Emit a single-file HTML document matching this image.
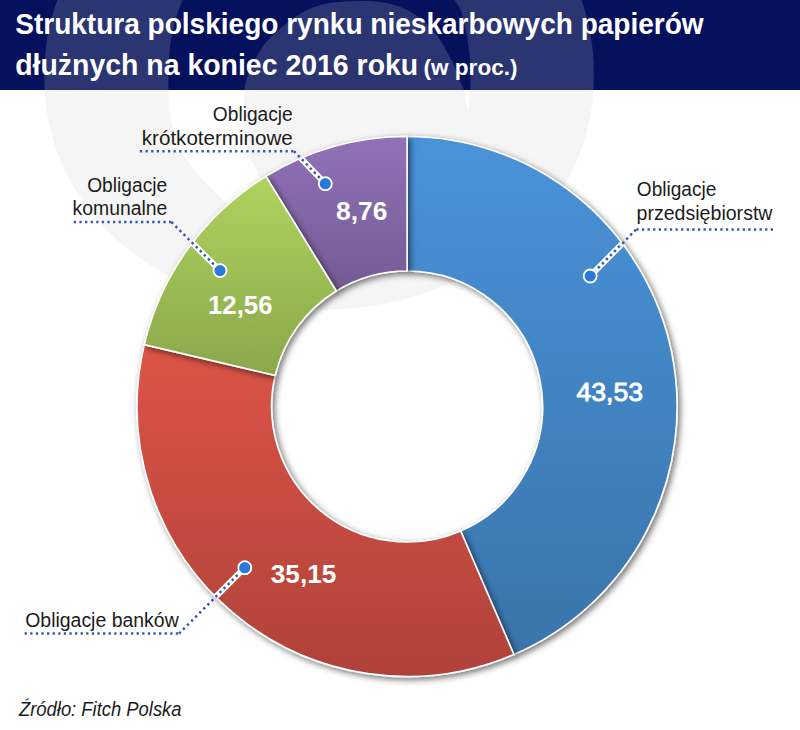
<!DOCTYPE html>
<html lang="pl">
<head>
<meta charset="utf-8">
<title>Struktura polskiego rynku nieskarbowych papierów dłużnych</title>
<style>
html,body{margin:0;padding:0;background:#ffffff;}
body{width:800px;height:730px;overflow:hidden;}
svg{display:block;}
text{font-family:"Liberation Sans",sans-serif;}
.t{font-weight:bold;fill:#ffffff;}
.l{font-size:20px;fill:#1c1c1c;}
.v{font-weight:bold;font-size:26px;fill:#ffffff;}
.dot{fill:none;stroke:#3557b0;stroke-width:2.5;}
.halo{fill:none;stroke:#ffffff;stroke-width:6;stroke-linecap:round;}
.pt{fill:#2979db;stroke:#ffffff;stroke-width:1.8;}
</style>
</head>
<body>
<svg width="800" height="730" viewBox="0 0 800 730">
<defs>
  <clipPath id="hdr"><rect x="0" y="0" width="800" height="90"/></clipPath>
  <clipPath id="bdy"><rect x="0" y="90" width="800" height="640"/></clipPath>
  <clipPath id="c1"><path d="M593.8,70.3 L593.8,79.5 L593.5,88.4 L592.9,97.0 L591.9,105.5 L590.6,113.8 L589.0,122.1 L587.1,130.3 L584.8,138.3 L582.2,146.2 L579.4,154.1 L576.2,161.8 L572.7,169.3 L568.9,176.8 L564.9,184.1 L560.5,191.3 L555.8,198.3 L550.9,205.1 L545.7,211.8 L540.2,218.3 L534.4,224.6 L528.4,230.8 L522.2,236.8 L515.7,242.5 L508.9,248.1 L501.9,253.4 L494.7,258.6 L487.3,263.5 L479.7,268.2 L471.8,272.6 L463.8,276.9 L455.6,280.8 L447.2,284.6 L438.6,288.1 L429.8,291.3 L420.9,294.3 L411.9,297.1 L402.7,299.5 L393.3,301.7 L383.8,303.7 L374.2,305.4 L364.5,306.8 L354.6,307.9 L344.5,308.8 L334.2,309.4 L323.3,309.7 L312.4,309.8 L302.1,309.6 L292.0,309.1 L282.1,308.3 L272.3,307.2 L262.6,305.9 L253.0,304.3 L243.6,302.4 L234.3,300.3 L225.2,297.9 L216.2,295.2 L207.3,292.3 L198.6,289.1 L190.1,285.7 L181.7,282.0 L173.5,278.0 L165.5,273.9 L157.7,269.4 L150.1,264.8 L142.8,259.9 L135.6,254.8 L128.6,249.5 L121.9,244.0 L115.4,238.3 L109.2,232.3 L103.2,226.2 L97.5,219.9 L92.1,213.4 L86.9,206.8 L82.0,199.9 L77.4,192.9 L73.0,185.8 L69.0,178.5 L65.2,171.0 L61.8,163.4 L58.6,155.7 L55.8,147.9 L53.2,139.9 L51.0,131.8 L49.1,123.6 L47.5,115.3 L46.2,106.9 L45.3,98.3 L44.6,89.5 L44.3,80.2 L44.3,70.9 L44.6,62.1 L45.3,53.5 L46.2,45.0 L47.5,36.6 L49.1,28.4 L51.1,20.2 L53.3,12.2 L55.9,4.2 L58.7,-3.6 L61.9,-11.3 L65.4,-18.9 L69.2,-26.3 L73.3,-33.6 L77.6,-40.8 L82.3,-47.8 L87.2,-54.7 L92.4,-61.3 L97.9,-67.9 L103.7,-74.2 L109.7,-80.3 L115.9,-86.3 L122.5,-92.1 L129.2,-97.6 L136.2,-103.0 L143.4,-108.1 L150.8,-113.0 L158.5,-117.7 L166.3,-122.2 L174.3,-126.4 L182.6,-130.4 L191.0,-134.1 L199.5,-137.6 L208.3,-140.9 L217.2,-143.9 L226.3,-146.6 L235.5,-149.1 L244.8,-151.3 L254.3,-153.2 L263.9,-154.9 L273.7,-156.3 L283.6,-157.5 L293.6,-158.3 L303.9,-158.9 L314.8,-159.3 L325.7,-159.3 L336.0,-159.1 L346.1,-158.6 L356.1,-157.8 L365.9,-156.8 L375.5,-155.4 L385.1,-153.8 L394.5,-152.0 L403.8,-149.8 L412.9,-147.4 L421.9,-144.7 L430.8,-141.8 L439.5,-138.6 L448.0,-135.2 L456.4,-131.5 L464.6,-127.6 L472.6,-123.4 L480.4,-119.0 L488.0,-114.3 L495.4,-109.5 L502.5,-104.4 L509.5,-99.1 L516.2,-93.5 L522.7,-87.8 L528.9,-81.9 L534.9,-75.8 L540.6,-69.5 L546.0,-63.0 L551.2,-56.3 L556.1,-49.5 L560.8,-42.5 L565.1,-35.3 L569.1,-28.0 L572.9,-20.6 L576.4,-13.0 L579.5,-5.3 L582.3,2.6 L584.9,10.5 L587.1,18.6 L589.0,26.8 L590.6,35.1 L591.9,43.6 L592.9,52.2 L593.5,61.0 Z"/></clipPath>
  <clipPath id="ring"><circle cx="407.1" cy="406.5" r="270.0"/></clipPath>
  <linearGradient id="gB" x1="0" y1="0" x2="0" y2="1"><stop offset="0" stop-color="#4993d9"/><stop offset="1" stop-color="#3a74ab"/></linearGradient>
  <linearGradient id="gR" x1="0" y1="0" x2="0" y2="1"><stop offset="0" stop-color="#dd5448"/><stop offset="1" stop-color="#af4239"/></linearGradient>
  <linearGradient id="gG" x1="0" y1="0" x2="0" y2="1"><stop offset="0" stop-color="#afd35f"/><stop offset="1" stop-color="#8aa74b"/></linearGradient>
  <linearGradient id="gP" x1="0" y1="0" x2="0" y2="1"><stop offset="0" stop-color="#9072b8"/><stop offset="1" stop-color="#745b94"/></linearGradient>
  <filter id="sh" x="-10%" y="-10%" width="120%" height="120%">
    <feDropShadow dx="2.4" dy="2.4" stdDeviation="3" flood-color="#000000" flood-opacity="0.55"/>
  </filter>
</defs>
<rect x="0" y="0" width="800" height="730" fill="#ffffff"/>
<rect x="0" y="0" width="800" height="90" fill="#05115c"/>
<g clip-path="url(#hdr)">
  <g clip-path="url(#c1)">
    <rect x="0" y="0" width="800" height="730" fill="#2b3571"/>
    <path d="M186.0,-8.0 C185.4,-6.7 184.2,-4.7 182.4,0.0 C180.6,4.7 177.3,13.3 175.4,20.0 C173.5,26.7 172.1,33.3 171.0,40.0 C169.9,46.7 169.3,52.5 168.9,60.0 C168.5,67.5 168.4,78.3 168.4,85.0 C168.4,91.7 168.5,95.2 168.8,100.0 C169.1,104.8 169.2,108.7 170.0,114.0 C170.8,119.3 172.2,126.7 173.6,132.0 C175.0,137.3 176.5,141.7 178.5,146.0 C180.5,150.3 182.9,154.1 185.5,158.0 C188.1,161.9 191.9,166.6 194.0,169.5 C196.1,172.4 195.5,172.8 198.0,175.5 C200.5,178.2 205.2,182.2 209.0,186.0 C212.8,189.8 215.8,193.3 221.0,198.0 C226.2,202.7 236.8,211.3 240.0,214.0L275.0,196.0 C272.5,193.1 262.8,182.2 260.0,178.5 C257.2,174.8 259.5,176.2 258.5,174.0 C257.5,171.8 255.5,167.7 254.0,165.0 C252.5,162.3 251.3,163.5 249.8,158.0 C248.2,152.5 245.5,139.3 244.5,132.0 C243.5,124.7 243.6,121.0 243.6,114.0 C243.6,107.0 244.2,95.2 244.5,90.0 C244.8,84.8 244.8,85.8 245.5,83.0 C246.2,80.2 247.4,76.8 249.0,73.0 C250.6,69.2 252.8,64.2 255.0,60.0 C257.2,55.8 259.8,51.3 262.0,48.0 C264.2,44.7 265.0,43.2 268.0,40.0 C271.0,36.8 275.9,32.5 280.0,29.0 C284.1,25.5 288.3,22.0 292.5,19.0 C296.7,16.0 300.8,13.2 305.0,11.0 C309.2,8.8 313.3,7.3 317.5,6.0 C321.7,4.7 325.4,3.8 330.0,3.0 C334.6,2.2 339.2,1.8 345.0,1.5 C350.8,1.2 359.5,0.9 365.0,1.0 C370.5,1.1 373.8,1.3 378.0,1.8 C382.2,2.3 385.5,2.5 390.0,3.8 C394.5,5.0 400.2,6.8 405.0,9.0 C409.8,11.2 414.9,14.3 418.7,17.0 C422.4,19.6 424.7,22.1 427.5,24.9 C430.3,27.7 433.2,31.0 435.4,33.6 C437.6,36.2 439.0,38.1 440.6,40.6 C442.2,43.1 443.5,45.9 445.0,48.5 C446.5,51.1 447.9,53.8 449.4,56.4 C450.8,59.0 452.0,60.2 453.7,64.2 C455.4,68.2 458.0,76.3 459.7,80.5 C461.4,84.7 462.8,86.6 463.8,89.6 C464.8,92.6 465.0,94.9 465.6,98.6 C466.2,102.3 467.4,109.8 467.7,112.0L467.7,112.0 C468.0,110.0 469.2,103.7 469.6,100.0 C470.0,96.3 470.1,93.6 470.3,89.6 C470.5,85.6 470.6,80.5 470.6,76.0 C470.6,71.5 470.7,66.9 470.4,62.5 C470.1,58.1 469.6,53.8 469.0,49.4 C468.4,45.0 467.7,40.6 466.9,36.2 C466.1,31.8 465.2,27.5 464.2,23.1 C463.2,18.7 462.3,13.8 460.7,10.0 C459.1,6.2 456.5,3.0 454.7,0.0 C452.9,-3.0 450.8,-6.7 450.0,-8.0 Z" fill="#05115c"/>
  </g>
</g>
<g clip-path="url(#bdy)">
  <g clip-path="url(#c1)">
    <rect x="0" y="0" width="800" height="730" fill="#f5f5f5"/>
    <path d="M186.0,-8.0 C185.4,-6.7 184.2,-4.7 182.4,0.0 C180.6,4.7 177.3,13.3 175.4,20.0 C173.5,26.7 172.1,33.3 171.0,40.0 C169.9,46.7 169.3,52.5 168.9,60.0 C168.5,67.5 168.4,78.3 168.4,85.0 C168.4,91.7 168.5,95.2 168.8,100.0 C169.1,104.8 169.2,108.7 170.0,114.0 C170.8,119.3 172.2,126.7 173.6,132.0 C175.0,137.3 176.5,141.7 178.5,146.0 C180.5,150.3 182.9,154.1 185.5,158.0 C188.1,161.9 191.9,166.6 194.0,169.5 C196.1,172.4 195.5,172.8 198.0,175.5 C200.5,178.2 205.2,182.2 209.0,186.0 C212.8,189.8 215.8,193.3 221.0,198.0 C226.2,202.7 236.8,211.3 240.0,214.0L275.0,196.0 C272.5,193.1 262.8,182.2 260.0,178.5 C257.2,174.8 259.5,176.2 258.5,174.0 C257.5,171.8 255.5,167.7 254.0,165.0 C252.5,162.3 251.3,163.5 249.8,158.0 C248.2,152.5 245.5,139.3 244.5,132.0 C243.5,124.7 243.6,121.0 243.6,114.0 C243.6,107.0 244.2,95.2 244.5,90.0 C244.8,84.8 244.8,85.8 245.5,83.0 C246.2,80.2 247.4,76.8 249.0,73.0 C250.6,69.2 252.8,64.2 255.0,60.0 C257.2,55.8 259.8,51.3 262.0,48.0 C264.2,44.7 265.0,43.2 268.0,40.0 C271.0,36.8 275.9,32.5 280.0,29.0 C284.1,25.5 288.3,22.0 292.5,19.0 C296.7,16.0 300.8,13.2 305.0,11.0 C309.2,8.8 313.3,7.3 317.5,6.0 C321.7,4.7 325.4,3.8 330.0,3.0 C334.6,2.2 339.2,1.8 345.0,1.5 C350.8,1.2 359.5,0.9 365.0,1.0 C370.5,1.1 373.8,1.3 378.0,1.8 C382.2,2.3 385.5,2.5 390.0,3.8 C394.5,5.0 400.2,6.8 405.0,9.0 C409.8,11.2 414.9,14.3 418.7,17.0 C422.4,19.6 424.7,22.1 427.5,24.9 C430.3,27.7 433.2,31.0 435.4,33.6 C437.6,36.2 439.0,38.1 440.6,40.6 C442.2,43.1 443.5,45.9 445.0,48.5 C446.5,51.1 447.9,53.8 449.4,56.4 C450.8,59.0 452.0,60.2 453.7,64.2 C455.4,68.2 458.0,76.3 459.7,80.5 C461.4,84.7 462.8,86.6 463.8,89.6 C464.8,92.6 465.0,94.9 465.6,98.6 C466.2,102.3 467.4,109.8 467.7,112.0L467.7,112.0 C468.0,110.0 469.2,103.7 469.6,100.0 C470.0,96.3 470.1,93.6 470.3,89.6 C470.5,85.6 470.6,80.5 470.6,76.0 C470.6,71.5 470.7,66.9 470.4,62.5 C470.1,58.1 469.6,53.8 469.0,49.4 C468.4,45.0 467.7,40.6 466.9,36.2 C466.1,31.8 465.2,27.5 464.2,23.1 C463.2,18.7 462.3,13.8 460.7,10.0 C459.1,6.2 456.5,3.0 454.7,0.0 C452.9,-3.0 450.8,-6.7 450.0,-8.0 Z" fill="#ffffff"/>
  </g>
</g>

<text class="t" x="15.2" y="33.5" font-size="29.5" textLength="688.5" lengthAdjust="spacingAndGlyphs">Struktura polskiego rynku nieskarbowych papierów</text>
<text class="t" x="15.2" y="75" font-size="29.5" textLength="403" lengthAdjust="spacingAndGlyphs">dłużnych na koniec 2016 roku</text>
<text class="t" x="423.5" y="75" font-size="22" textLength="94" lengthAdjust="spacingAndGlyphs">(w proc.)</text>

<g stroke="#ffffff" stroke-width="1.6" stroke-linejoin="round">
  <path filter="url(#sh)" fill="url(#gB)" d="M407.10,136.50 A270,270 0 0 1 513.86,654.50 L460.68,530.96 A135.5,135.5 0 0 0 407.10,271.00 Z"/>
  <path filter="url(#sh)" fill="url(#gR)" d="M513.86,654.50 A270,270 0 0 1 144.29,344.63 L275.21,375.45 A135.5,135.5 0 0 0 460.68,530.96 Z"/>
  <path filter="url(#sh)" fill="url(#gP)" d="M265.88,176.38 A270,270 0 0 1 407.10,136.50 L407.10,271.00 A135.5,135.5 0 0 0 336.23,291.01 Z"/>
  <path filter="url(#sh)" fill="url(#gG)" d="M144.29,344.63 A270,270 0 0 1 265.88,176.38 L336.23,291.01 A135.5,135.5 0 0 0 275.21,375.45 Z"/>
</g>

<text class="v" x="576.5" y="400.5" textLength="66.5" lengthAdjust="spacingAndGlyphs" style="font-weight:normal;stroke:#ffffff;stroke-width:0.9">43,53</text>
<text class="v" x="270.8" y="582.9" textLength="65.5" lengthAdjust="spacingAndGlyphs">35,15</text>
<text class="v" x="208" y="313.9" textLength="64.5" lengthAdjust="spacingAndGlyphs">12,56</text>
<text class="v" x="336" y="219.8" textLength="51.5" lengthAdjust="spacingAndGlyphs">8,76</text>

<path class="halo" clip-path="url(#ring)" d="M294.0,151.2 L325.3,183.7"/>
<path class="halo" clip-path="url(#ring)" d="M171.4,222.0 L220.0,270.6"/>
<path class="halo" clip-path="url(#ring)" d="M636.0,229.6 L590.2,276.0"/>
<path class="halo" clip-path="url(#ring)" d="M179.0,633.6 L244.8,567.7"/>
<path class="dot" stroke-dasharray="2.3 3.3" d="M139.9,151.2 L294.0,151.2"/>
<path class="dot" stroke-dasharray="2.4 3.35" d="M294.0,151.2 L325.3,183.7"/>
<path class="dot" stroke-dasharray="2.3 3.3" d="M73.8,222.0 L171.4,222.0"/>
<path class="dot" stroke-dasharray="2.4 3.35" d="M171.4,222.0 L220.0,270.6"/>
<path class="dot" stroke-dasharray="2.3 3.3" d="M773.0,229.6 L636.0,229.6"/>
<path class="dot" stroke-dasharray="2.4 3.35" d="M636.0,229.6 L590.2,276.0"/>
<path class="dot" stroke-dasharray="2.3 3.3" d="M24.6,633.6 L179.0,633.6"/>
<path class="dot" stroke-dasharray="2.4 3.35" d="M179.0,633.6 L244.8,567.7"/>
<circle class="pt" cx="325.3" cy="183.7" r="6.5"/>
<circle class="pt" cx="220.0" cy="270.6" r="6.5"/>
<circle class="pt" cx="590.2" cy="276.0" r="6.5"/>
<circle class="pt" cx="244.8" cy="567.7" r="6.5"/>

<text class="l" x="212.8" y="121" textLength="80" lengthAdjust="spacingAndGlyphs">Obligacje</text>
<text class="l" x="141.8" y="145" textLength="151" lengthAdjust="spacingAndGlyphs">krótkoterminowe</text>
<text class="l" x="87.2" y="191.6" textLength="80" lengthAdjust="spacingAndGlyphs">Obligacje</text>
<text class="l" x="72.6" y="214.5" textLength="94.8" lengthAdjust="spacingAndGlyphs">komunalne</text>
<text class="l" x="636.8" y="196.3" textLength="79.5" lengthAdjust="spacingAndGlyphs">Obligacje</text>
<text class="l" x="636.5" y="220" textLength="136" lengthAdjust="spacingAndGlyphs">przedsiębiorstw</text>
<text class="l" x="25.2" y="627.1" textLength="153.5" lengthAdjust="spacingAndGlyphs">Obligacje banków</text>

<text x="19" y="716.3" font-size="19.5" font-style="italic" fill="#1c1c1c" textLength="162.5" lengthAdjust="spacingAndGlyphs">Źródło: Fitch Polska</text>
</svg>
</body>
</html>
